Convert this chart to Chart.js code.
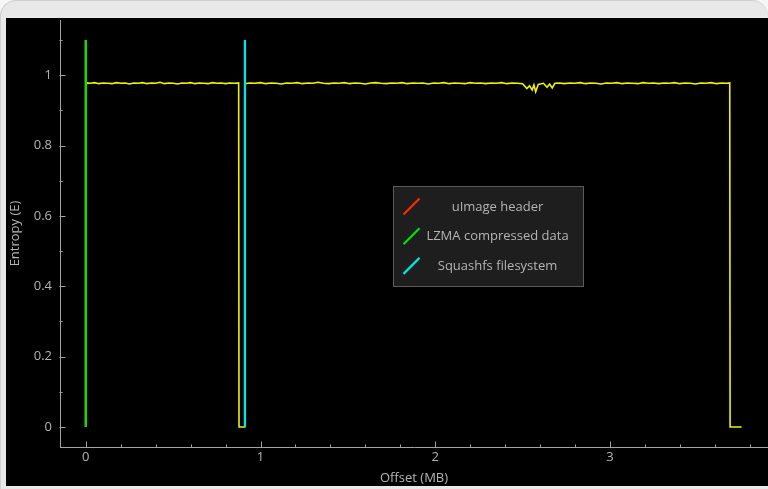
<!DOCTYPE html>
<html>
<head>
<meta charset="utf-8">
<script src="https://cdn.jsdelivr.net/npm/chart.js@4.4.0/dist/chart.umd.min.js"></script>
<style>
html, body { margin: 0; padding: 0; width: 768px; height: 489px; overflow: hidden; background: #f6f6f6; }
#frame { position: absolute; left: 0; top: 0; width: 767px; height: 489px; background: #e8e8e8; border-radius: 16px 16px 0 0; border: 1px solid #cfcfcf; border-bottom: none; border-right: none; }
#plot { position: absolute; left: 6px; top: 18px; width: 762px; height: 468px; background: #000; }
</style>
</head>
<body>
<div id="frame"></div>
<div id="plot"><canvas id="c" width="762" height="468"></canvas></div>
<script>
// Entropy curve (offset in MB, entropy E)
var entropyX = [0, 0.004, 0.025, 0.05, 0.075, 0.1, 0.125, 0.15, 0.175, 0.2, 0.225, 0.25, 0.275, 0.3, 0.325, 0.35,
  0.375, 0.4, 0.425, 0.45, 0.475, 0.5, 0.525, 0.55, 0.575, 0.6, 0.625, 0.65, 0.675, 0.7, 0.725, 0.75, 0.775, 0.8,
  0.825, 0.85, 0.875, 0.877, 0.908, 0.910, 0.94, 0.97, 1.00, 1.03, 1.06, 1.09, 1.12, 1.15, 1.18, 1.21, 1.24, 1.27,
  1.30, 1.33, 1.36, 1.39, 1.42, 1.45, 1.48, 1.51, 1.54, 1.57, 1.60, 1.63, 1.66, 1.69, 1.72, 1.75, 1.78, 1.81, 1.84,
  1.87, 1.90, 1.93, 1.96, 1.99, 2.02, 2.05, 2.08, 2.11, 2.14, 2.17, 2.20, 2.23, 2.26, 2.29, 2.32, 2.35, 2.38, 2.41,
  2.44, 2.47, 2.50, 2.525, 2.54, 2.555, 2.565, 2.575, 2.59, 2.62, 2.64, 2.655, 2.67, 2.685, 2.71, 2.74, 2.77, 2.80,
  2.83, 2.86, 2.89, 2.92, 2.95, 2.98, 3.01, 3.04, 3.07, 3.10, 3.13, 3.16, 3.19, 3.22, 3.25, 3.28, 3.31, 3.34, 3.37,
  3.40, 3.43, 3.46, 3.49, 3.52, 3.55, 3.58, 3.61, 3.64, 3.67, 3.686, 3.688, 3.754];
var entropyY = [0.955, 0.978, 0.977, 0.979, 0.976, 0.978, 0.977, 0.976, 0.979, 0.977, 0.978, 0.975, 0.978, 0.977, 0.979, 0.976,
  0.978, 0.977, 0.980, 0.976, 0.978, 0.977, 0.975, 0.978, 0.977, 0.979, 0.976, 0.978, 0.977, 0.976, 0.979, 0.977, 0.978, 0.976,
  0.978, 0.977, 0.978, 0, 0, 0.976, 0.978, 0.977, 0.979, 0.976, 0.978, 0.977, 0.975, 0.978, 0.977, 0.979, 0.976, 0.978,
  0.977, 0.980, 0.977, 0.976, 0.978, 0.977, 0.979, 0.976, 0.978, 0.977, 0.975, 0.978, 0.979, 0.977, 0.976, 0.978, 0.977, 0.979, 0.976,
  0.978, 0.977, 0.978, 0.975, 0.978, 0.977, 0.979, 0.976, 0.978, 0.977, 0.976, 0.979, 0.977, 0.978, 0.976, 0.978, 0.977, 0.979, 0.976,
  0.978, 0.977, 0.976, 0.962, 0.970, 0.958, 0.972, 0.953, 0.974, 0.977, 0.966, 0.975, 0.964, 0.977, 0.978, 0.976, 0.978, 0.977,
  0.979, 0.976, 0.978, 0.977, 0.975, 0.978, 0.977, 0.979, 0.976, 0.978, 0.977, 0.976, 0.979, 0.977, 0.978, 0.976, 0.978, 0.977, 0.979,
  0.976, 0.978, 0.977, 0.975, 0.978, 0.977, 0.979, 0.976, 0.978, 0.977, 0.978, 0, 0];

// Signatures found (offset in MB), drawn as vertical markers up to sigTop
var sigNames = ['LZMA compressed data', 'uImage header', 'Squashfs filesystem'];
var sigOffsets = [0, 0, 0.911];
var sigTop = 1.1;
var legendOrder = ['uImage header', 'LZMA compressed data', 'Squashfs filesystem'];

// Axis ticks
var xMajorTicks = [0, 1, 2, 3];
var xMinorTicks = [0.2, 0.4, 0.6, 0.8, 1.2, 1.4, 1.6, 1.8, 2.2, 2.4, 2.6, 2.8, 3.2, 3.4, 3.6, 3.8];
var yMajorTicks = [0, 0.2, 0.4, 0.6, 0.8, 1];
var yMinorTicks = [0.1, 0.3, 0.5, 0.7, 0.9, 1.1];

var sigColors = { 'uImage header': '#ff2a00', 'LZMA compressed data': '#00e600', 'Squashfs filesystem': '#00e5e5' };
var axisGray = '#a4a4a4';
var textGray = '#b4b4b4';
var fontFam = '"Open Sans", "DejaVu Sans", sans-serif';

var datasets = [];
sigNames.forEach(function(n, i) {
  datasets.push({
    label: n,
    data: [{ x: sigOffsets[i], y: 0 }, { x: sigOffsets[i], y: sigTop }],
    borderColor: sigColors[n], borderWidth: 2.3, pointRadius: 0, fill: false
  });
});
datasets.push({
  label: 'Entropy',
  data: entropyX.map(function(x, i) { return { x: x, y: entropyY[i] }; }),
  borderColor: '#f2f200', borderWidth: 1.6, pointRadius: 0, fill: false, tension: 0
});

// Minor/major tick marks drawn through the scales
var tickMarks = {
  id: 'tickMarks',
  afterDraw: function(chart) {
    var c = chart.ctx, xs = chart.scales.x, ys = chart.scales.y;
    var xa = xs.top + 0.5, ya = ys.right - 0.5;
    c.save();
    c.strokeStyle = axisGray; c.lineWidth = 1;
    c.beginPath();
    xMajorTicks.forEach(function(v) { var p = Math.round(xs.getPixelForValue(v)) + 0.5; c.moveTo(p, xa); c.lineTo(p, xa - 6); });
    xMinorTicks.forEach(function(v) { var p = Math.round(xs.getPixelForValue(v)) + 0.5; c.moveTo(p, xa); c.lineTo(p, xa - 3); });
    yMajorTicks.forEach(function(v) { var p = Math.round(ys.getPixelForValue(v)) + 0.5; c.moveTo(ya, p); c.lineTo(ya + 6, p); });
    yMinorTicks.forEach(function(v) { var p = Math.round(ys.getPixelForValue(v)) + 0.5; c.moveTo(ya, p); c.lineTo(ya + 3, p); });
    c.stroke();
    c.restore();
  }
};

// Floating legend box in the middle of the plot
var boxLegend = {
  id: 'boxLegend',
  afterDraw: function(chart) {
    var c = chart.ctx;
    var bx = 387.5, by = 168.5, bw = 190, bh = 100;
    c.save();
    c.fillStyle = '#1e1e1e';
    c.strokeStyle = '#5a5a5a'; c.lineWidth = 1;
    c.fillRect(bx, by, bw, bh);
    c.strokeRect(bx, by, bw, bh);
    c.font = '13px ' + fontFam;
    c.textAlign = 'center'; c.textBaseline = 'middle';
    legendOrder.forEach(function(n, i) {
      var cy = by + 20.5 + i * 29.7;
      c.strokeStyle = sigColors[n]; c.lineWidth = 2.2;
      c.beginPath(); c.moveTo(bx + 10, cy + 7.5); c.lineTo(bx + 26, cy - 8.5); c.stroke();
      c.fillStyle = textGray;
      c.fillText(n, bx + 104, cy);
    });
    c.restore();
  }
};

new Chart(document.getElementById('c'), {
  type: 'line',
  data: { datasets: datasets },
  options: {
    responsive: false, animation: false,
    layout: { padding: { top: 2, right: 0, left: 0, bottom: 0 } },
    plugins: { legend: { display: false }, tooltip: { enabled: false } },
    scales: {
      x: {
        type: 'linear', min: -0.1477, max: 3.905,
        afterBuildTicks: function(s) { s.ticks = xMajorTicks.map(function(v) { return { value: v }; }); },
        afterFit: function(s) { s.height = 39; s.paddingLeft = 0; s.paddingRight = 0; },
        grid: { display: false, drawTicks: false, tickLength: 0 },
        border: { display: true, color: axisGray, width: 1 },
        ticks: { color: textGray, font: { size: 13, family: fontFam }, padding: 2, maxRotation: 0,
          callback: function(v) { return String(v); } },
        title: { display: true, text: 'Offset (MB)', color: textGray, font: { size: 13, family: fontFam }, padding: { top: 0, bottom: 0 } }
      },
      y: {
        type: 'linear', min: -0.057, max: 1.157,
        afterBuildTicks: function(s) { s.ticks = yMajorTicks.map(function(v) { return { value: v }; }); },
        afterFit: function(s) { s.width = 54; s.paddingTop = 0; s.paddingBottom = 0; },
        grid: { display: false, drawTicks: false, tickLength: 0 },
        border: { display: true, color: axisGray, width: 1 },
        ticks: { color: textGray, font: { size: 13, family: fontFam }, padding: 8,
          callback: function(v) { return String(v); } },
        title: { display: true, text: 'Entropy (E)', color: textGray, font: { size: 13, family: fontFam }, padding: { top: 1, bottom: 0 } }
      }
    }
  },
  plugins: [tickMarks, boxLegend]
});
</script>
</body>
</html>
